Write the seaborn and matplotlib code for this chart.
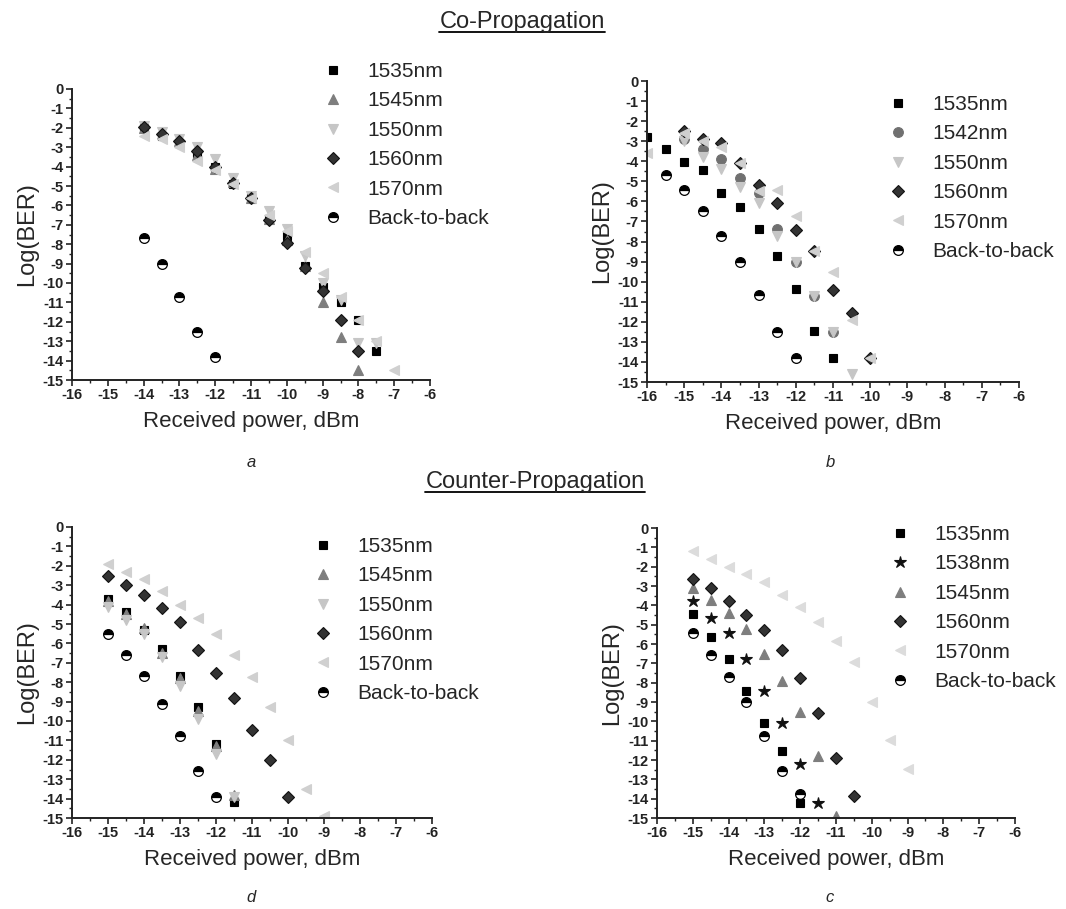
import matplotlib
matplotlib.use("Agg")
import matplotlib.pyplot as plt
import seaborn as sns
import numpy as np
from matplotlib.lines import Line2D
from matplotlib.ticker import MultipleLocator

# ---------------- data ----------------
# a: co-propagation
a_x_1535 = [-14, -13.5, -13, -12.5, -12, -11.5, -11, -10.5, -10, -9.5, -9, -8.5, -8, -7.5]
a_y_1535 = [-2.0, -2.4, -2.8, -3.3, -4.0, -4.9, -5.6, -6.7, -7.6, -9.1, -10.2, -11.0, -11.9, -13.5]
a_x_1545 = [-14, -13.5, -13, -12.5, -12, -11.5, -11, -10.5, -10, -9.5, -9, -8.5, -8]
a_y_1545 = [-2.0, -2.3, -2.7, -3.4, -4.1, -4.8, -5.6, -6.7, -7.8, -9.1, -11.0, -12.8, -14.5]
a_x_1550 = [-14, -13.5, -13, -12.5, -12, -11.5, -11, -10.5, -10, -9.5, -9, -8.5, -8, -7.5]
a_y_1550 = [-1.9, -2.2, -2.6, -3.0, -3.6, -4.6, -5.5, -6.3, -7.2, -8.6, -10.0, -10.9, -13.1, -13.1]
a_x_1560 = [-14, -13.5, -13, -12.5, -12, -11.5, -11, -10.5, -10, -9.5, -9, -8.5, -8]
a_y_1560 = [-1.95, -2.3, -2.7, -3.2, -4.0, -4.85, -5.6, -6.75, -7.95, -9.25, -10.4, -11.9, -13.5]
a_x_1570 = [-14, -13.5, -13, -12.5, -12, -11.5, -11, -10.5, -10, -9.5, -9, -8.5, -8, -7.5, -7]
a_y_1570 = [-2.4, -2.6, -3.0, -3.7, -4.2, -4.9, -5.6, -6.5, -7.3, -8.4, -9.5, -10.7, -11.9, -13.0, -14.5]
a_x_b2b = [-14, -13.5, -13, -12.5, -12]
a_y_b2b = [-7.7, -9.0, -10.7, -12.5, -13.8]

# b: co-propagation
b_x_1535 = [-16, -15.5, -15, -14.5, -14, -13.5, -13, -12.5, -12, -11.5, -11]
b_y_1535 = [-2.8, -3.4, -4.05, -4.45, -5.6, -6.3, -7.4, -8.7, -10.35, -12.45, -13.8]
b_x_1542 = [-15, -14.5, -14, -13.5, -13, -12.5, -12, -11.5, -11]
b_y_1542 = [-2.9, -3.4, -3.9, -4.85, -5.6, -7.4, -9.0, -10.7, -12.5]
b_x_1550 = [-15, -14.5, -14, -13.5, -13, -12.5, -12, -11.5, -11, -10.5]
b_y_1550 = [-3.0, -3.8, -4.4, -5.3, -6.1, -7.7, -9.0, -10.7, -12.5, -14.6]
b_x_1560 = [-15, -14.5, -14, -13.5, -13, -12.5, -12, -11.5, -11, -10.5, -10]
b_y_1560 = [-2.5, -2.9, -3.1, -4.1, -5.2, -6.1, -7.45, -8.45, -10.4, -11.55, -13.8]
b_x_1570 = [-16, -15, -14.5, -14, -13.5, -13, -12.5, -12, -11.5, -11, -10.5, -10]
b_y_1570 = [-3.6, -2.6, -3.0, -3.3, -4.1, -5.5, -5.45, -6.75, -8.45, -9.5, -11.9, -13.8]
b_x_b2b = [-15.5, -15, -14.5, -14, -13.5, -13, -12.5, -12]
b_y_b2b = [-4.7, -5.45, -6.5, -7.7, -9.0, -10.65, -12.5, -13.8]

# d: counter-propagation
d_x_1535 = [-15, -14.5, -14, -13.5, -13, -12.5, -12, -11.5]
d_y_1535 = [-3.7, -4.4, -5.3, -6.3, -7.7, -9.3, -11.2, -14.2]
d_x_1545 = [-15, -14.5, -14, -13.5, -13, -12.5, -12, -11.5]
d_y_1545 = [-3.8, -4.5, -5.2, -6.5, -7.8, -9.5, -11.3, -13.8]
d_x_1550 = [-15, -14.5, -14, -13.5, -13, -12.5, -12, -11.5]
d_y_1550 = [-4.1, -4.8, -5.5, -6.7, -8.2, -9.9, -11.7, -13.9]
d_x_1560 = [-15, -14.5, -14, -13.5, -13, -12.5, -12, -11.5, -11, -10.5, -10]
d_y_1560 = [-2.55, -3.0, -3.5, -4.2, -4.9, -6.35, -7.55, -8.8, -10.45, -12.0, -13.9]
d_x_1570 = [-15, -14.5, -14, -13.5, -13, -12.5, -12, -11.5, -11, -10.5, -10, -9.5, -9]
d_y_1570 = [-1.9, -2.3, -2.7, -3.3, -4.0, -4.7, -5.5, -6.6, -7.75, -9.3, -11.0, -13.5, -14.9]
d_x_b2b = [-15, -14.5, -14, -13.5, -13, -12.5, -12]
d_y_b2b = [-5.5, -6.6, -7.7, -9.1, -10.75, -12.6, -13.9]

# c: counter-propagation
c_x_1535 = [-15, -14.5, -14, -13.5, -13, -12.5, -12]
c_y_1535 = [-4.45, -5.65, -6.75, -8.45, -10.1, -11.55, -14.2]
c_x_1538 = [-15, -14.5, -14, -13.5, -13, -12.5, -12, -11.5]
c_y_1538 = [-3.75, -4.65, -5.45, -6.75, -8.45, -10.1, -12.2, -14.2]
c_x_1545 = [-15, -14.5, -14, -13.5, -13, -12.5, -12, -11.5, -11]
c_y_1545 = [-3.1, -3.7, -4.4, -5.2, -6.5, -7.9, -9.5, -11.8, -14.9]
c_x_1560 = [-15, -14.5, -14, -13.5, -13, -12.5, -12, -11.5, -11, -10.5]
c_y_1560 = [-2.65, -3.1, -3.75, -4.5, -5.25, -6.3, -7.75, -9.55, -11.9, -13.85]
c_x_1570 = [-15, -14.5, -14, -13.5, -13, -12.5, -12, -11.5, -11, -10.5, -10, -9.5, -9]
c_y_1570 = [-1.2, -1.6, -2.0, -2.4, -2.8, -3.45, -4.1, -4.85, -5.85, -6.95, -9.0, -10.95, -12.45]
c_x_b2b = [-15, -14.5, -14, -13.5, -13, -12.5, -12]
c_y_b2b = [-5.45, -6.55, -7.7, -9.0, -10.75, -12.55, -13.75]

# marker look per wavelength
STYLE = {
    "1535nm": dict(marker="s", fc="#000000", ec="#000000", ms=5.6),
    "1538nm": dict(marker="*", fc="#111111", ec="#111111", ms=9.0),
    "1542nm": dict(marker="o", fc="#707070", ec="#707070", ms=7.0),
    "1545nm": dict(marker="^", fc="#7e7e7e", ec="#7e7e7e", ms=7.5),
    "1550nm": dict(marker="v", fc="#c6c6c6", ec="#c6c6c6", ms=7.5),
    "1560nm": dict(marker="D", fc="#333333", ec="#111111", ms=5.8),
    "1570nm": dict(marker="<", fc="#d0d0d0", ec="#d0d0d0", ms=7.5),
    "Back-to-back": dict(marker="o", fc="#000000", ec="#000000", ms=7.0),
}

W, H = 1066, 909

sns.set_style("ticks")
plt.rcParams["font.family"] = ["Liberation Sans Narrow", "Liberation Sans", "DejaVu Sans"]
plt.rcParams["axes.unicode_minus"] = False

fig = plt.figure(figsize=(W / 100, H / 100), dpi=100)


def px_axes(x0, y0, x1, y1):
    # axes from pixel box (top-left origin)
    return fig.add_axes([x0 / W, 1 - y1 / H, (x1 - x0) / W, (y1 - y0) / H])


def draw_series(ax, x, y, label, fc=None):
    st = STYLE[label]
    kw = dict(marker=st["marker"], markersize=st["ms"],
              markerfacecolor=fc or st["fc"], markeredgecolor=fc or st["ec"],
              markeredgewidth=0.8, color=fc or st["fc"])
    if label == "Back-to-back":
        kw.update(fillstyle="top", markerfacecoloralt="white",
                  markeredgecolor="black", markeredgewidth=0.9)
    sns.lineplot(x=x, y=y, ax=ax, linestyle="", label=label,
                 estimator=None, sort=False, errorbar=None, **kw)


def style_axes(ax):
    ax.set_xlim(-16, -6)
    ax.set_ylim(-15, 0)
    ax.set_xticks(range(-16, -5))
    ax.set_yticks(range(-15, 1))
    ax.xaxis.set_minor_locator(MultipleLocator(0.5))
    ax.yaxis.set_minor_locator(MultipleLocator(0.5))
    sns.despine(ax=ax)
    for side in ("left", "bottom"):
        ax.spines[side].set_linewidth(1.4)
        ax.spines[side].set_color("#222222")
    ax.tick_params(which="major", direction="out", length=4, width=1.2,
                   labelsize=10.5, colors="#222222", pad=2)
    ax.tick_params(which="minor", direction="out", length=2.5, width=1.0, colors="#222222")
    for lab in ax.get_xticklabels() + ax.get_yticklabels():
        lab.set_fontweight("bold")
    ax.set_xlabel("Received power, dBm", fontsize=16, labelpad=6)
    ax.set_ylabel("Log(BER)", fontsize=17, labelpad=3)


def add_legend(ax, mx, my):
    fs = 15
    half = fs * 100 / 72 * 1.0 / 2
    ax.legend(loc="upper left", bbox_to_anchor=((mx - half) / W, 1 - (my - 8) / H),
              bbox_transform=fig.transFigure, frameon=False, fontsize=fs,
              handlelength=1.0, handletextpad=1.15, labelspacing=0.5,
              borderpad=0, borderaxespad=0)


# panel a
ax_a = px_axes(72, 89, 430, 380)
draw_series(ax_a, a_x_1535, a_y_1535, "1535nm")
draw_series(ax_a, a_x_1545, a_y_1545, "1545nm")
draw_series(ax_a, a_x_1550, a_y_1550, "1550nm")
draw_series(ax_a, a_x_1560, a_y_1560, "1560nm")
draw_series(ax_a, a_x_1570, a_y_1570, "1570nm")
draw_series(ax_a, a_x_b2b, a_y_b2b, "Back-to-back")
style_axes(ax_a)
add_legend(ax_a, 333, 70)

# panel b
ax_b = px_axes(647, 81, 1019, 382)
draw_series(ax_b, b_x_1535, b_y_1535, "1535nm")
draw_series(ax_b, b_x_1542, b_y_1542, "1542nm")
draw_series(ax_b, b_x_1550, b_y_1550, "1550nm")
draw_series(ax_b, b_x_1560, b_y_1560, "1560nm")
draw_series(ax_b, b_x_1570, b_y_1570, "1570nm")
draw_series(ax_b, b_x_b2b, b_y_b2b, "Back-to-back")
style_axes(ax_b)
add_legend(ax_b, 898, 103)

# panel d
ax_d = px_axes(72, 527, 432, 818)
draw_series(ax_d, d_x_1535, d_y_1535, "1535nm")
draw_series(ax_d, d_x_1545, d_y_1545, "1545nm")
draw_series(ax_d, d_x_1550, d_y_1550, "1550nm")
draw_series(ax_d, d_x_1560, d_y_1560, "1560nm")
draw_series(ax_d, d_x_1570, d_y_1570, "1570nm")
draw_series(ax_d, d_x_b2b, d_y_b2b, "Back-to-back")
style_axes(ax_d)
add_legend(ax_d, 323, 545)

# panel c
ax_c = px_axes(657, 528, 1015, 818)
draw_series(ax_c, c_x_1535, c_y_1535, "1535nm")
draw_series(ax_c, c_x_1538, c_y_1538, "1538nm")
draw_series(ax_c, c_x_1545, c_y_1545, "1545nm")
draw_series(ax_c, c_x_1560, c_y_1560, "1560nm")
draw_series(ax_c, c_x_1570, c_y_1570, "1570nm", fc="#dcdcdc")
draw_series(ax_c, c_x_b2b, c_y_b2b, "Back-to-back")
style_axes(ax_c)
add_legend(ax_c, 900, 533)

# headings and panel letters
heads = [
    fig.text(522 / W, 1 - 22 / H, "Co-Propagation", ha="center", va="center", fontsize=17),
    fig.text(535 / W, 1 - 482 / H, "Counter-Propagation", ha="center", va="center", fontsize=17),
]
for s, x, y in [("a", 251, 462), ("b", 830, 462), ("d", 251, 897), ("c", 830, 897)]:
    fig.text(x / W, 1 - y / H, s, ha="center", va="center", fontsize=12, style="italic")

fig.canvas.draw()
for t in heads:
    bb = t.get_window_extent().transformed(fig.transFigure.inverted())
    fig.add_artist(Line2D([bb.x0, bb.x1], [bb.y0 + 0.001] * 2, color="black",
                          lw=1.3, transform=fig.transFigure))

fig.savefig("out.png", dpi=100)
